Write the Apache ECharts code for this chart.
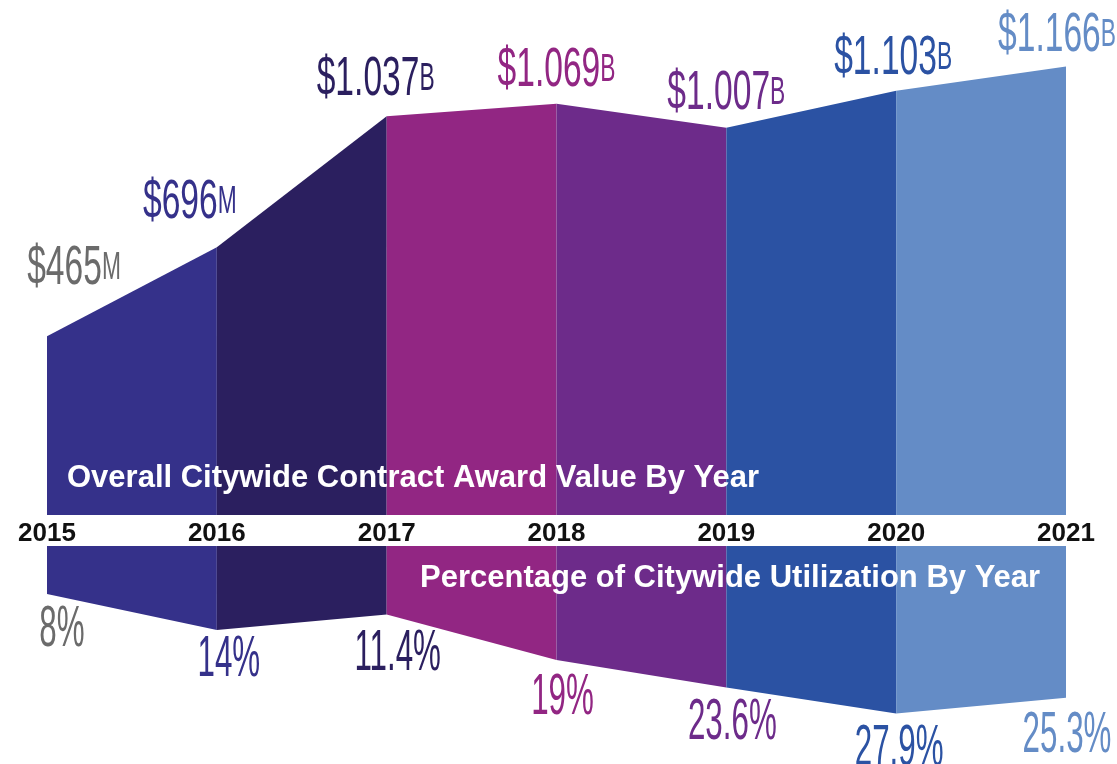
<!DOCTYPE html>
<html>
<head>
<meta charset="utf-8">
<script src="https://cdn.jsdelivr.net/npm/echarts@6/dist/echarts.min.js"></script>
<style>
  html, body { margin: 0; padding: 0; background: #fff; }
  #chart { width: 1117px; height: 764px; }
</style>
</head>
<body>
<div id="chart"></div>
<script>
// years on the shared x axis
var years = ['2015', '2016', '2017', '2018', '2019', '2020', '2021']
// contract award value, millions of dollars
var awardValues = [465, 696, 1037, 1069, 1007, 1103, 1166]
// citywide utilization, percent
var utilization = [8, 14, 11.4, 19, 23.6, 27.9, 25.3]
// one colour per span between two years
var spanColors = ['#35318a', '#2b1f5f', '#922683', '#6d2b8a', '#2b52a3', '#648cc6']
// label colour per year
var labelColors = ['#6b6b6b', '#35318a', '#2b1f5f', '#922683', '#6d2b8a', '#2b52a3', '#648cc6']

var numFont = "'Liberation Sans', Arial, sans-serif"
var myChart = echarts.init(document.getElementById('chart'))

function spanData (values, k) {
  return values.map(function (v, i) {
    return (i === k || i === k + 1) ? v : '-'
  })
}

function moneyText (v) {
  if (v < 1000) return '{n|$' + v + '}{u|M}'
  return '{n|$' + (v / 1000).toFixed(3) + '}{u|B}'
}

var series = []
spanColors.forEach(function (c, k) {
  series.push({
    type: 'line',
    xAxisIndex: 0,
    yAxisIndex: 0,
    data: spanData(awardValues, k),
    symbol: 'none',
    lineStyle: { width: 0 },
    areaStyle: { color: c, opacity: 1 },
    silent: true,
    z: 2
  })
  series.push({
    type: 'line',
    xAxisIndex: 1,
    yAxisIndex: 1,
    data: spanData(utilization, k),
    symbol: 'none',
    lineStyle: { width: 0 },
    areaStyle: { color: c, opacity: 1 },
    silent: true,
    z: 2
  })
})

// value labels above the top area (dx, gap above the point)
// the original numbers use a very narrow face, so squeeze them with scaleX
var topShift = [[27, 40], [-27, 17], [-11, 9], [0, 5], [0, 6], [-3, 4], [-9, 3]]
series.push({
  type: 'custom',
  xAxisIndex: 0,
  yAxisIndex: 0,
  silent: true,
  z: 5,
  data: awardValues.map(function (v, i) { return [i, v] }),
  renderItem: function (params, api) {
    var i = params.dataIndex
    var p = api.coord([api.value(0), api.value(1)])
    var v = awardValues[i]
    return {
      type: 'text',
      x: p[0] + topShift[i][0],
      y: p[1] - topShift[i][1],
      scaleX: 0.6,
      style: {
        text: moneyText(v),
        align: 'center',
        verticalAlign: 'bottom',
        rich: {
          n: { fontFamily: numFont, fontSize: 56, fill: labelColors[i] },
          u: { fontFamily: numFont, fontSize: 38, fill: labelColors[i] }
        }
      }
    }
  }
})

// percentage labels below the bottom area (dx, gap below the point)
var bottomShift = [[15, 8], [12, 2], [11, 11], [6, 10], [6, 7], [3, 7], [1, 10]]
series.push({
  type: 'custom',
  xAxisIndex: 1,
  yAxisIndex: 1,
  silent: true,
  z: 5,
  data: utilization.map(function (v, i) { return [i, v] }),
  renderItem: function (params, api) {
    var i = params.dataIndex
    var p = api.coord([api.value(0), api.value(1)])
    return {
      type: 'text',
      x: p[0] + bottomShift[i][0],
      y: p[1] + bottomShift[i][1],
      scaleX: 0.55,
      style: {
        text: utilization[i] + '%',
        align: 'center',
        verticalAlign: 'top',
        font: "57px 'Liberation Sans', Arial, sans-serif",
        fill: labelColors[i]
      }
    }
  }
})

myChart.setOption({
  animation: false,
  backgroundColor: '#fff',
  grid: [
    { left: 47, right: 51, top: 15, bottom: 249 },
    { left: 47, right: 51, top: 546, height: 210 }
  ],
  xAxis: [
    {
      type: 'category',
      gridIndex: 0,
      data: years,
      boundaryGap: false,
      axisLine: { show: false },
      axisTick: { show: false },
      splitLine: { show: false },
      axisLabel: {
        interval: 0,
        margin: 6,
        color: '#111',
        fontFamily: "'Liberation Sans', Arial, sans-serif",
        fontWeight: 'bold',
        fontSize: 26
      }
    },
    {
      type: 'category',
      gridIndex: 1,
      data: years,
      boundaryGap: false,
      show: false
    }
  ],
  yAxis: [
    { type: 'value', gridIndex: 0, min: 0, max: 1300, show: false },
    { type: 'value', gridIndex: 1, min: 0, max: 35, inverse: true, show: false }
  ],
  graphic: [
    {
      type: 'text',
      left: 67,
      top: 463,
      z: 10,
      style: {
        text: 'Overall Citywide Contract Award Value By Year',
        fill: '#fff',
        font: "bold 31px 'Liberation Sans', Arial, sans-serif"
      }
    },
    {
      type: 'text',
      left: 420,
      top: 563,
      z: 10,
      style: {
        text: 'Percentage of Citywide Utilization By Year',
        fill: '#fff',
        font: "bold 31px 'Liberation Sans', Arial, sans-serif"
      }
    }
  ],
  series: series
})
</script>
</body>
</html>
